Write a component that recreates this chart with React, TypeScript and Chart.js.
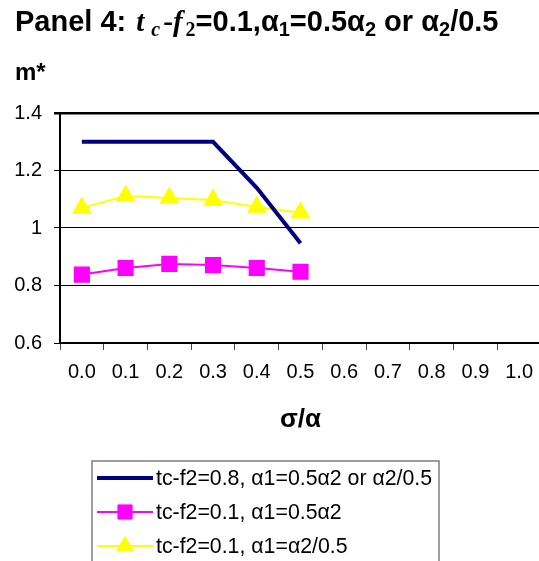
import React, { useEffect, useRef } from "react";
import { Chart, registerables } from "chart.js";
import { drawPoint } from "chart.js/helpers";

Chart.register(...registerables);

const categories = ["0.0", "0.1", "0.2", "0.3", "0.4", "0.5", "0.6", "0.7", "0.8", "0.9", "1.0"];
const seriesNavy = [1.3, 1.3, 1.3, 1.3, 1.14, 0.947];
const seriesMagenta = [0.838, 0.861, 0.875, 0.871, 0.861, 0.848];
const seriesYellow = [1.07, 1.111, 1.104, 1.097, 1.073, 1.053];
const seriesLabels = [
  "tc-f2=0.8, α1=0.5α2 or α2/0.5",
  "tc-f2=0.1, α1=0.5α2",
  "tc-f2=0.1, α1=α2/0.5",
];
const yMin = 0.6;
const yMax = 1.4;
const yStep = 0.2;

const FONT = '"Liberation Sans", Arial, sans-serif';

const boxLegend = {
  id: "boxLegend",
  afterDraw(chart: any) {
    const ctx = chart.ctx;
    const ca = chart.chartArea;
    const xs = chart.scales.x;
    const left = ca.left + 32;
    const top = xs.bottom + 26;
    const right = ca.left + 379;
    ctx.save();
    ctx.strokeStyle = "#7f7f7f";
    ctx.lineWidth = 1.5;
    ctx.strokeRect(left, top, right - left, 200);
    chart.data.datasets.forEach((ds: any, i: number) => {
      const y = top + 17 + i * 34;
      const x0 = left + 5;
      const x1 = left + 61;
      ctx.strokeStyle = ds.borderColor;
      ctx.lineWidth = ds.borderWidth;
      ctx.beginPath();
      ctx.moveTo(x0, y);
      ctx.lineTo(x1, y);
      ctx.stroke();
      if (ds.pointRadius > 0) {
        ctx.fillStyle = ds.pointBackgroundColor;
        ctx.strokeStyle = ds.pointBorderColor;
        ctx.lineWidth = 1;
        drawPoint(ctx, { pointStyle: ds.pointStyle, radius: ds.pointRadius, rotation: 0, borderWidth: 1 }, (x0 + x1) / 2, y);
      }
      ctx.fillStyle = "#000";
      ctx.font = `21.3px ${FONT}`;
      ctx.textBaseline = "middle";
      ctx.textAlign = "left";
      ctx.fillText(ds.label, x1 + 3, y + 1);
    });
    ctx.restore();
  },
};

export default function App() {
  const ref = useRef<HTMLCanvasElement>(null);
  useEffect(() => {
    if (!ref.current) return;
    const chart = new Chart(ref.current, {
      type: "line",
      data: {
        labels: categories,
        datasets: [
          {
            label: seriesLabels[0],
            data: seriesNavy,
            borderColor: "#000080",
            backgroundColor: "#000080",
            borderWidth: 4,
            pointRadius: 0,
            pointStyle: "line",
            tension: 0,
          },
          {
            label: seriesLabels[1],
            data: seriesMagenta,
            borderColor: "#ff00ff",
            backgroundColor: "#ff00ff",
            pointBackgroundColor: "#ff00ff",
            pointBorderColor: "#ff00ff",
            borderWidth: 2,
            pointRadius: 10,
            pointStyle: "rect",
            tension: 0,
          },
          {
            label: seriesLabels[2],
            data: seriesYellow,
            borderColor: "#ffff00",
            backgroundColor: "#ffff00",
            pointBackgroundColor: "#ffff00",
            pointBorderColor: "#ffff00",
            borderWidth: 2,
            pointRadius: 9.5,
            pointStyle: "triangle",
            tension: 0,
          },
        ] as any,
      },
      options: {
        animation: false,
        responsive: false,
        layout: { padding: { top: 113, left: 0, right: 19, bottom: 126 } },
        plugins: {
          legend: { display: false },
          title: { display: false },
          tooltip: { enabled: false },
        },
        scales: {
          x: {
            type: "category",
            offset: true,
            grid: {
              display: true,
              offset: true,
              drawOnChartArea: false,
              drawTicks: true,
              tickLength: 7,
              color: "#444",
              lineWidth: 1,
            },
            border: { display: true, color: "#000", width: 2 },
            ticks: {
              color: "#000",
              font: { family: FONT, size: 20 },
              padding: 10,
              maxRotation: 0,
              autoSkip: false,
            },
            title: {
              display: true,
              text: "σ/α",
              color: "#000",
              font: { family: FONT, size: 26, weight: "bold" },
              padding: { top: 0, bottom: 0 },
            },
            afterFit: (s: any) => {
              s.height = 92;
            },
          },
          y: {
            min: yMin,
            max: yMax,
            grid: {
              color: "#000",
              lineWidth: (c: any) => (c.tick && Math.abs(c.tick.value - yMax) < 1e-6 ? 2.5 : 1),
              tickLength: 6,
              drawTicks: true,
            },
            border: { display: true, color: "#000", width: 2 },
            ticks: {
              stepSize: yStep,
              color: "#000",
              font: { family: FONT, size: 20 },
              padding: 12,
              callback: (v: any) => String(Number(Number(v).toFixed(2))),
            },
            afterFit: (s: any) => {
              s.width = 60;
            },
          },
        },
      },
      plugins: [boxLegend],
    });
    return () => chart.destroy();
  }, []);

  const sub: React.CSSProperties = { fontSize: 20, verticalAlign: "-5px" };
  const serifFam = '"Liberation Serif", "Times New Roman", serif';
  const serif: React.CSSProperties = { fontFamily: serifFam, fontStyle: "italic" };
  return (
    <div style={{ position: "absolute", left: 0, top: 0, width: 539, height: 561, overflow: "hidden", background: "#fff" }}>
      <canvas ref={ref} width={560} height={561} style={{ position: "absolute", left: 0, top: 0, width: 560, height: 561 }} />
      <div
        style={{
          position: "absolute",
          left: 15,
          top: 7,
          fontFamily: FONT,
          fontWeight: "bold",
          fontSize: 29,
          lineHeight: "29px",
          whiteSpace: "nowrap",
          color: "#000",
        }}
      >
        Panel 4: <span style={{ ...serif, marginLeft: 2 }}>t</span>
        <span style={{ ...serif, ...sub, marginLeft: 7, marginRight: 3 }}>c</span>
        <span style={{ fontFamily: serifFam }}>-</span>
        <span style={serif}>f</span>
        <span style={{ ...sub, fontFamily: serifFam, marginLeft: 3 }}>2</span>
        =0.1,α<span style={sub}>1</span>=0.5α<span style={sub}>2</span> or α<span style={sub}>2</span>/0.5
      </div>
      <div
        style={{
          position: "absolute",
          left: 15,
          top: 60,
          fontFamily: FONT,
          fontWeight: "bold",
          fontSize: 24,
          lineHeight: "24px",
          color: "#000",
        }}
      >
        m*
      </div>
    </div>
  );
}
